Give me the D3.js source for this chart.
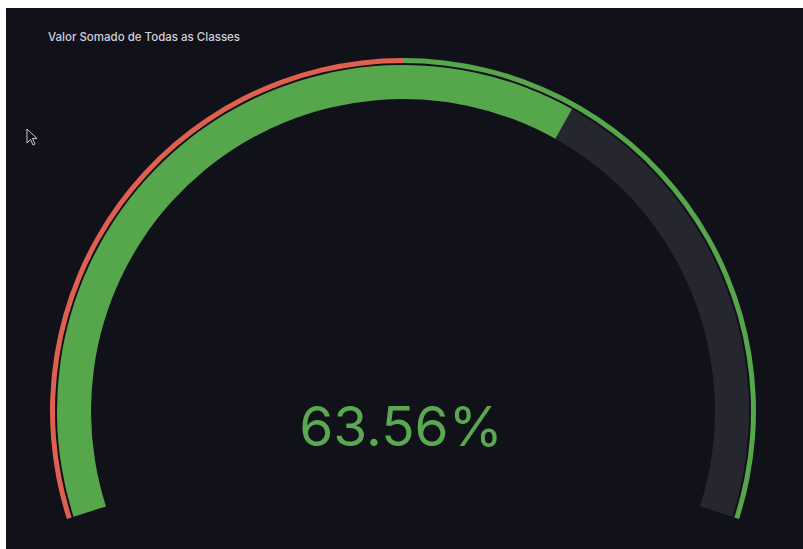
<!DOCTYPE html>
<html>
<head>
<meta charset="utf-8">
<script src="https://cdn.jsdelivr.net/npm/d3@7"></script>
<style>
  html, body { margin: 0; padding: 0; background: #ffffff; }
  svg { display: block; }
</style>
</head>
<body>
<div id="chart"></div>
<script>
// gauge panel, one value, threshold ring on the outside

const panelTitle = "Valor Somado de Todas as Classes";
const gaugeMin = [0];
const gaugeMax = [100];
const gaugeValue = [63.56];
const thresholdSteps = [0, 50];           // where each colour starts
const thresholdColors = ["#e0604f", "#56a64b"];

const W = 803, H = 549;

const svg = d3.select("#chart").append("svg")
  .attr("width", W)
  .attr("height", H);

// panel bg (video grab has a white strip on top / left)
svg.append("rect")
  .attr("x", 6).attr("y", 8)
  .attr("width", W - 6).attr("height", H - 8)
  .attr("fill", "#111119");

svg.append("text")
  .attr("x", 48)
  .attr("y", 41)
  .attr("fill", "#cfd0dc")
  .attr("font-family", "Inter, Roboto, sans-serif")
  .attr("font-size", 11.5)
  .attr("font-weight", 500)
  .text(panelTitle);

// gauge geometry
const cx = 403, cy = 411;
const sweep = 107.8 * Math.PI / 180;
const angle = d3.scaleLinear()
  .domain([gaugeMin[0], gaugeMax[0]])
  .range([-sweep, sweep]);

const g = svg.append("g").attr("transform", `translate(${cx},${cy})`);

// outer threshold ring
const ringArc = d3.arc().innerRadius(348).outerRadius(353);
const stepData = thresholdSteps.map((s, i) => ({
  from: s,
  to: i < thresholdSteps.length - 1 ? thresholdSteps[i + 1] : gaugeMax[0],
  color: thresholdColors[i]
}));

g.selectAll("path.ring")
  .data(stepData)
  .join("path")
  .attr("class", "ring")
  .attr("d", d => ringArc({ startAngle: angle(d.from), endAngle: angle(d.to) }))
  .attr("fill", d => d.color);

// main band, bg then value
const bandArc = d3.arc().innerRadius(312).outerRadius(346);

g.append("path")
  .attr("d", bandArc({ startAngle: angle(gaugeMin[0]), endAngle: angle(gaugeMax[0]) }))
  .attr("fill", "#26272e");

function colorFor(v) {
  let c = thresholdColors[0];
  thresholdSteps.forEach((s, i) => { if (v >= s) c = thresholdColors[i]; });
  return c;
}

g.append("path")
  .attr("d", bandArc({ startAngle: angle(gaugeMin[0]), endAngle: angle(gaugeValue[0]) }))
  .attr("fill", colorFor(gaugeValue[0]));

// big number
svg.append("text")
  .attr("x", 401)
  .attr("y", 446)
  .attr("text-anchor", "middle")
  .attr("fill", "#5aa851")
  .attr("font-family", "Inter, Roboto, sans-serif")
  .attr("font-size", 55)
  .text(d3.format(".2f")(gaugeValue[0]) + "%");

// mouse pointer left on the screen
svg.append("path")
  .attr("d", "M27,129 L27,143 L30.5,139.5 L33,145 L35,144 L32.5,138.5 L37,138.5 Z")
  .attr("fill", "#111119")
  .attr("stroke", "#c8c8d0")
  .attr("stroke-width", 1);
</script>
</body>
</html>
